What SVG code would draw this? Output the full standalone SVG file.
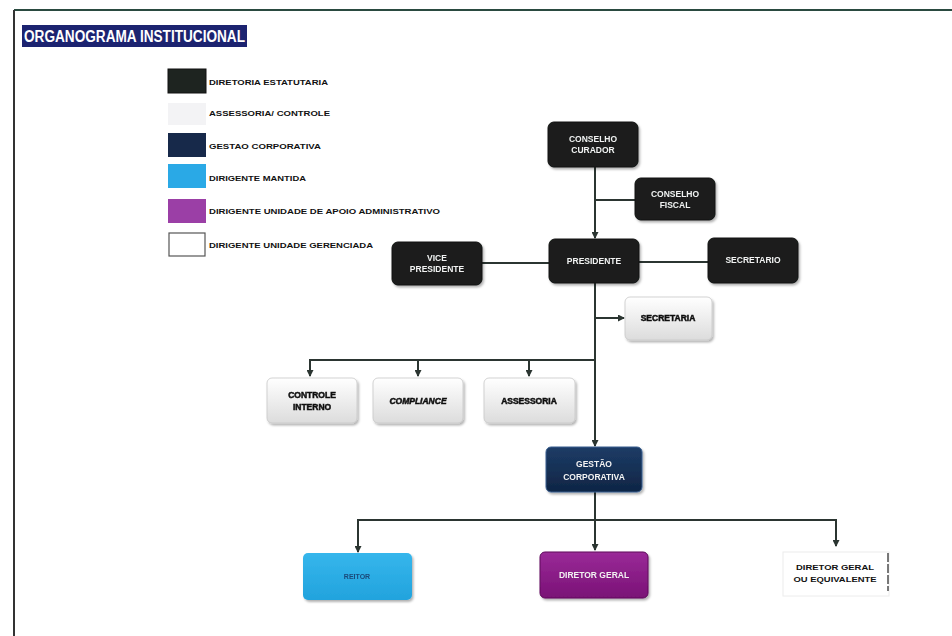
<svg xmlns="http://www.w3.org/2000/svg" width="952" height="636" viewBox="0 0 952 636">
<style>
  .frame { stroke: #2a4a40; stroke-width: 2; fill: none; }
  .frameL { stroke: #333; stroke-width: 2; fill: none; }
  .dark { fill: #1b1f1e; stroke: #0e1110; stroke-width: 1; }
  .light { fill: url(#gLight); stroke: #c8c8c8; stroke-width: 0.8; }
  .wt { font-family: "Liberation Sans", Arial, sans-serif; font-size: 8.5px; font-weight: bold; fill: #f2f2f2; text-anchor: middle; }
  .bt { font-family: "Liberation Sans", Arial, sans-serif; font-size: 8.5px; font-weight: bold; fill: #111; text-anchor: middle; stroke: #111; stroke-width: 0.5; }
  .lg { font-family: "Liberation Sans", Arial, sans-serif; font-size: 8px; font-weight: bold; fill: #111; }
  .conn { stroke: #2b3531; stroke-width: 2; fill: none; }
  .arr { marker-end: url(#ah); }
</style>
<defs>
  <marker id="ah" markerUnits="userSpaceOnUse" markerWidth="7" markerHeight="7" refX="6" refY="3.5" orient="auto">
    <path d="M0,0 L7,3.5 L0,7 z" fill="#2b3531"/>
  </marker>
  <linearGradient id="gLight" x1="0" y1="0" x2="0" y2="1">
    <stop offset="0" stop-color="#ffffff"/>
    <stop offset="1" stop-color="#dcdcdc"/>
  </linearGradient>
  <linearGradient id="gNavy" x1="0" y1="0" x2="0" y2="1">
    <stop offset="0" stop-color="#1d3c66"/>
    <stop offset="1" stop-color="#0f2545"/>
  </linearGradient>
  <linearGradient id="gMag" x1="0" y1="0" x2="0" y2="1">
    <stop offset="0" stop-color="#9a2a98"/>
    <stop offset="1" stop-color="#7a1176"/>
  </linearGradient>
  <linearGradient id="gBlue" x1="0" y1="0" x2="0" y2="1">
    <stop offset="0" stop-color="#35b6ec"/>
    <stop offset="1" stop-color="#22a3dd"/>
  </linearGradient>
  <filter id="sh" x="-10%" y="-10%" width="130%" height="140%">
    <feDropShadow dx="1.5" dy="2" stdDeviation="1.2" flood-color="#000" flood-opacity="0.3"/>
  </filter>
</defs>

<rect x="0" y="0" width="952" height="636" fill="#ffffff"/>

<!-- frame -->
<line class="frame" x1="14" y1="10" x2="952" y2="10"/>
<line class="frameL" x1="14" y1="10" x2="14" y2="636"/>

<!-- title -->
<g id="title">
  <rect x="22" y="25" width="225" height="22" fill="#1c2370"/>
  <text x="24" y="42" font-family="'Liberation Sans', Arial, sans-serif" font-size="16" font-weight="bold" fill="#ffffff" textLength="221" lengthAdjust="spacingAndGlyphs">ORGANOGRAMA INSTITUCIONAL</text>
</g>

<!-- legend -->
<g id="legend">
  <rect x="168" y="69" width="38" height="24" fill="#1e2420" stroke="#111" stroke-width="1"/>
  <text class="lg" x="209" y="85" textLength="119" lengthAdjust="spacingAndGlyphs">DIRETORIA ESTATUTARIA</text>
  <rect x="168" y="103" width="38" height="22" fill="#f3f3f5"/>
  <text class="lg" x="209" y="116" textLength="121" lengthAdjust="spacingAndGlyphs">ASSESSORIA/ CONTROLE</text>
  <rect x="168" y="133" width="38" height="24" fill="#17294a"/>
  <text class="lg" x="209" y="149" textLength="112" lengthAdjust="spacingAndGlyphs">GESTAO CORPORATIVA</text>
  <rect x="168" y="164" width="38" height="24" fill="#2aa9e6"/>
  <text class="lg" x="209" y="181" textLength="97" lengthAdjust="spacingAndGlyphs">DIRIGENTE MANTIDA</text>
  <rect x="168" y="199" width="38" height="24" fill="#9b3fa6"/>
  <text class="lg" x="209" y="214" textLength="231" lengthAdjust="spacingAndGlyphs">DIRIGENTE UNIDADE DE APOIO ADMINISTRATIVO</text>
  <rect x="169" y="233" width="36" height="23" fill="#ffffff" stroke="#555" stroke-width="1.2"/>
  <text class="lg" x="209" y="248" textLength="164" lengthAdjust="spacingAndGlyphs">DIRIGENTE UNIDADE GERENCIADA</text>
</g>

<!-- connectors -->
<g id="connectors">
  <path class="conn arr" d="M595,167 V238"/>
  <path class="conn" d="M595,200 H635"/>
  <path class="conn" d="M482,263 H549"/>
  <path class="conn" d="M639,262 H708"/>
  <path class="conn arr" d="M595,283 V446"/>
  <path class="conn arr" d="M595,318 H624"/>
  <path class="conn" d="M595,360 H310"/>
  <path class="conn arr" d="M310,359 V376"/>
  <path class="conn arr" d="M418,360 V376"/>
  <path class="conn arr" d="M529,360 V376"/>
  <path class="conn arr" d="M595,492 V550"/>
  <path class="conn" d="M358,520 H836"/>
  <path class="conn arr" d="M358,519 V552"/>
  <path class="conn arr" d="M836,519 V546"/>
</g>

<!-- nodes -->
<g id="conselho-curador" filter="url(#sh)">
  <rect class="dark" x="548" y="122" width="90" height="45" rx="6"/>
  <text class="wt" x="593" y="142">CONSELHO</text>
  <text class="wt" x="593" y="153">CURADOR</text>
</g>
<g id="conselho-fiscal" filter="url(#sh)">
  <rect class="dark" x="635" y="178" width="80" height="42" rx="6"/>
  <text class="wt" x="675" y="197">CONSELHO</text>
  <text class="wt" x="675" y="208">FISCAL</text>
</g>
<g id="presidente" filter="url(#sh)">
  <rect class="dark" x="549" y="239" width="90" height="44" rx="6"/>
  <text class="wt" x="594" y="264">PRESIDENTE</text>
</g>
<g id="vice-presidente" filter="url(#sh)">
  <rect class="dark" x="392" y="242" width="90" height="43" rx="6"/>
  <text class="wt" x="437" y="261">VICE</text>
  <text class="wt" x="437" y="272">PRESIDENTE</text>
</g>
<g id="secretario" filter="url(#sh)">
  <rect class="dark" x="708" y="238" width="90" height="45" rx="6"/>
  <text class="wt" x="753" y="263">SECRETARIO</text>
</g>
<g id="secretaria" filter="url(#sh)">
  <rect class="light" x="625" y="297" width="87" height="43" rx="5"/>
  <text class="bt" x="668" y="321">SECRETARIA</text>
</g>
<g id="controle-interno" filter="url(#sh)">
  <rect class="light" x="267" y="378" width="90" height="45" rx="5"/>
  <text class="bt" x="312" y="398">CONTROLE</text>
  <text class="bt" x="312" y="410">INTERNO</text>
</g>
<g id="compliance" filter="url(#sh)">
  <rect class="light" x="373" y="378" width="90" height="45" rx="5"/>
  <text class="bt" x="418" y="404" font-style="italic">COMPLIANCE</text>
</g>
<g id="assessoria" filter="url(#sh)">
  <rect class="light" x="484" y="378" width="91" height="45" rx="5"/>
  <text class="bt" x="529" y="404">ASSESSORIA</text>
</g>
<g id="gestao-corporativa" filter="url(#sh)">
  <rect x="546" y="447" width="96" height="45" rx="5" fill="url(#gNavy)" stroke="#3a5f8f" stroke-width="1"/>
  <text class="wt" x="594" y="467" fill="#dfe8f5">GESTÃO</text>
  <text class="wt" x="594" y="480" fill="#dfe8f5">CORPORATIVA</text>
</g>
<g id="reitor" filter="url(#sh)">
  <rect x="303" y="553" width="109" height="47" rx="5" fill="url(#gBlue)"/>
  <text x="357" y="579" font-family="'Liberation Sans', Arial, sans-serif" font-size="7" font-weight="bold" fill="#1b4a7a" text-anchor="middle">REITOR</text>
</g>
<g id="diretor-geral" filter="url(#sh)">
  <rect x="540" y="552" width="108" height="46" rx="5" fill="url(#gMag)" stroke="#5e0c5b" stroke-width="1"/>
  <text class="wt" x="594" y="578" fill="#f5e6f5">DIRETOR GERAL</text>
</g>
<g id="diretor-geral-equivalente">
  <rect x="783" y="552" width="106" height="44" fill="#ffffff" stroke="#ececec" stroke-width="1"/>
  <line x1="888" y1="553" x2="888" y2="591" stroke="#222" stroke-width="1.2" stroke-dasharray="9,2"/>
  <text x="835" y="570" font-family="'Liberation Sans', Arial, sans-serif" font-size="8" font-weight="bold" fill="#111" text-anchor="middle" textLength="78" lengthAdjust="spacingAndGlyphs">DIRETOR GERAL</text>
  <text x="835" y="582" font-family="'Liberation Sans', Arial, sans-serif" font-size="8" font-weight="bold" fill="#111" text-anchor="middle" textLength="83" lengthAdjust="spacingAndGlyphs">OU EQUIVALENTE</text>
</g>
</svg>
